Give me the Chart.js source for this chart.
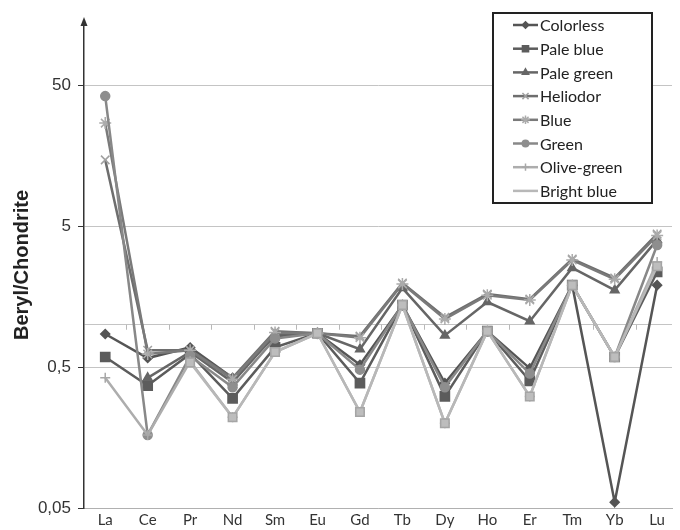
<!DOCTYPE html>
<html>
<head>
<meta charset="utf-8">
<script src="https://cdn.jsdelivr.net/npm/chart.js@4.4.0/dist/chart.umd.min.js"></script>
<style>
  html, body { margin: 0; padding: 0; background: #fff; }
  #wrap { width: 680px; height: 530px; }
</style>
</head>
<body>
<div id="wrap"><canvas id="chart" width="680" height="530"></canvas></div>
<script>
// REE elements (x categories) and y tick values
const elements = ['La', 'Ce', 'Pr', 'Nd', 'Sm', 'Eu', 'Gd', 'Tb', 'Dy', 'Ho', 'Er', 'Tm', 'Yb', 'Lu'];
const yTicks = [0.05, 0.5, 1, 5, 50];

// chondrite-normalised values
const colorless  = [0.86, 0.58, 0.69, 0.42, 0.83, 0.87, 0.52, 1.38, 0.385, 0.90, 0.49, 1.91, 0.055, 1.91];
const paleBlue   = [0.59, 0.37, 0.62, 0.30, 0.69, 0.87, 0.385, 1.38, 0.31, 0.90, 0.40, 1.91, 0.59, 2.37];
const paleGreen  = [null, 0.42, 0.64, 0.39, 0.85, 0.87, 0.67, 1.82, 0.84, 1.45, 1.06, 2.53, 1.76, 4.0];
const heliodor   = [14.8, 0.66, 0.66, 0.42, 0.90, 0.87, 0.83, 1.98, 1.13, 1.65, 1.52, 2.93, 2.15, 4.41];
const blue       = [27, 0.62, 0.66, 0.41, 0.88, 0.87, 0.81, 1.95, 1.10, 1.62, 1.50, 2.88, 2.10, 4.3];
const green      = [42, 0.165, 0.60, 0.36, 0.80, 0.87, 0.48, 1.38, 0.36, 0.90, 0.45, 1.91, 0.59, 3.68];
const oliveGreen = [0.42, 0.165, 0.55, 0.22, 0.64, 0.87, 0.24, 1.38, 0.20, 0.90, 0.31, 1.91, 0.59, 2.79];
const brightBlue = [null, null, 0.54, 0.22, 0.64, 0.87, 0.24, 1.38, 0.20, 0.90, 0.31, 1.91, 0.59, 2.6];

const seriesNames = ['Colorless', 'Pale blue', 'Pale green', 'Heliodor', 'Blue', 'Green', 'Olive-green', 'Bright blue'];
const seriesData = [colorless, paleBlue, paleGreen, heliodor, blue, green, oliveGreen, brightBlue];

// grey-scale look of the printed figure
const styles = [
  { line: '#555555', fill: '#555555', point: 'rectRot',  r: 4.5 },
  { line: '#5c5c5c', fill: '#5c5c5c', point: 'rect',     r: 6.5 },
  { line: '#666666', fill: '#666666', point: 'triangle', r: 5 },
  { line: '#6e6e6e', fill: '#a0a0a0', point: 'crossRot', r: 6 },
  { line: '#7a7a7a', fill: '#ababab', point: 'star',     r: 6 },
  { line: '#888888', fill: '#8e8e8e', point: 'circle',   r: 4.5 },
  { line: '#adadad', fill: '#a8a8a8', point: 'cross',    r: 5 },
  { line: '#b8b8b8', fill: '#bdbdbd', point: 'rect',     r: 6 }
];

const datasets = seriesData.map((vals, i) => ({
  label: seriesNames[i],
  data: vals.map((v, j) => ({ x: j, y: v })),
  borderColor: styles[i].line,
  backgroundColor: styles[i].fill,
  pointBackgroundColor: styles[i].fill,
  pointBorderColor: i === 7 ? '#a5a5a5' : styles[i].fill,
  pointBorderWidth: 1.5,
  pointStyle: styles[i].point,
  pointRadius: styles[i].r,
  borderWidth: 2.5,
  tension: 0,
  order: seriesData.length - i
}));

function fmt(v) {
  return String(v).replace('.', ',');
}

function drawMarker(ctx, style, r, x, y, color) {
  if (Chart.helpers && Chart.helpers.drawPoint) {
    ctx.fillStyle = color;
    ctx.strokeStyle = color;
    ctx.lineWidth = 1.5;
    Chart.helpers.drawPoint(ctx, { pointStyle: style, radius: r, rotation: 0, borderWidth: 1.5 }, x, y);
  }
}

const decor = {
  id: 'decor',
  beforeDatasetsDraw(chart) {
    const { ctx, chartArea, scales: { x, y } } = chart;
    const y1 = y.getPixelForValue(1);
    ctx.save();
    // little category ticks hanging off the 1-line
    ctx.strokeStyle = '#b8b8b8';
    ctx.lineWidth = 1;
    for (let i = 0; i < elements.length - 1; i++) {
      const px = Math.round(x.getPixelForValue(i + 0.5)) + 0.5;
      ctx.beginPath();
      ctx.moveTo(px, y1);
      ctx.lineTo(px, y1 + 5);
      ctx.stroke();
    }
    // arrow head on top of the y axis
    const ax = chartArea.left;
    ctx.fillStyle = '#333';
    ctx.beginPath();
    ctx.moveTo(ax, chartArea.top - 5);
    ctx.lineTo(ax - 3.5, chartArea.top + 4);
    ctx.lineTo(ax + 3.5, chartArea.top + 4);
    ctx.closePath();
    ctx.fill();
    ctx.restore();
  },
  afterDraw(chart) {
    const { ctx } = chart;
    ctx.save();
    ctx.fillStyle = '#fff';
    ctx.fillRect(493, 13, 159, 190);
    ctx.strokeStyle = '#222';
    ctx.lineWidth = 2;
    ctx.strokeRect(493, 13, 159, 190);
    ctx.font = '16px Lato';
    ctx.textBaseline = 'middle';
    seriesNames.forEach((name, i) => {
      const ly = 25 + i * 23.7;
      const st = styles[i];
      ctx.strokeStyle = st.line;
      ctx.lineWidth = 2.5;
      ctx.beginPath();
      ctx.moveTo(513, ly);
      ctx.lineTo(538, ly);
      ctx.stroke();
      if (i < seriesNames.length - 1) {
        drawMarker(ctx, st.point, Math.min(st.r, 6) * 0.72, 525.5, ly, st.fill);
      }
      ctx.fillStyle = '#222';
      ctx.fillText(name, 540, ly + 1);
    });
    ctx.restore();
  }
};

new Chart(document.getElementById('chart'), {
  type: 'line',
  data: { datasets },
  options: {
    responsive: false,
    animation: false,
    layout: { padding: { top: 22, left: 0, right: 0, bottom: 0 } },
    plugins: {
      legend: { display: false },
      tooltip: { enabled: false }
    },
    scales: {
      x: {
        type: 'linear',
        min: -0.5,
        max: 13.35,
        afterBuildTicks: (scale) => { scale.ticks = elements.map((_, i) => ({ value: i })); },
        afterFit: (scale) => { scale.height = 22; },
        grid: { display: false, drawTicks: false },
        border: { color: '#b0b0b0', width: 1 },
        ticks: {
          callback: (v) => elements[v] ?? '',
          font: { family: 'Lato', size: 15 },
          color: '#333',
          padding: 3,
          maxRotation: 0,
          autoSkip: false
        }
      },
      y: {
        type: 'logarithmic',
        min: 0.05,
        max: 141,
        afterBuildTicks: (scale) => { scale.ticks = yTicks.map(v => ({ value: v })); },
        afterFit: (scale) => { scale.width = 84; },
        grid: {
          color: '#c4c4c4',
          lineWidth: 1,
          tickLength: 6,
          tickColor: (c) => (c.tick && c.tick.value === 1 ? 'rgba(0,0,0,0)' : '#333')
        },
        border: { color: '#333', width: 1.5 },
        ticks: {
          callback: (v) => (v === 1 ? '' : fmt(v)),
          font: { family: 'Liberation Sans', size: 17 },
          color: '#333',
          padding: 7
        },
        title: {
          display: true,
          text: 'Beryl/Chondrite',
          font: { family: 'Liberation Sans', size: 20, weight: 'bold' },
          color: '#222',
          padding: { top: 10, bottom: 0 }
        }
      }
    }
  },
  plugins: [decor]
});
</script>
</body>
</html>
